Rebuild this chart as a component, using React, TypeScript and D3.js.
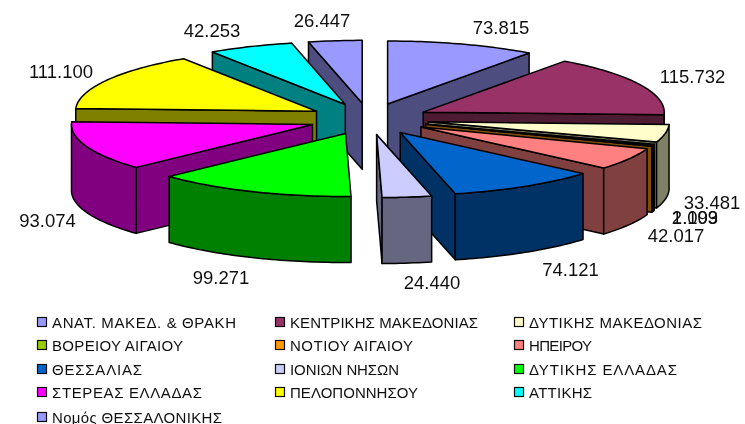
import React from "react";
import * as d3 from "d3";

const names = ["ΑΝΑΤ. ΜΑΚΕΔ. & ΘΡΑΚΗ","ΚΕΝΤΡΙΚΗΣ ΜΑΚΕΔΟΝΙΑΣ","ΔΥΤΙΚΗΣ ΜΑΚΕΔΟΝΙΑΣ","ΒΟΡΕΙΟΥ ΑΙΓΑΙΟΥ","ΝΟΤΙΟΥ ΑΙΓΑΙΟΥ","ΗΠΕΙΡΟΥ","ΘΕΣΣΑΛΙΑΣ","ΙΟΝΙΩΝ ΝΗΣΩΝ","ΔΥΤΙΚΗΣ ΕΛΛΑΔΑΣ","ΣΤΕΡΕΑΣ ΕΛΛΑΔΑΣ","ΠΕΛΟΠΟΝΝΗΣΟΥ","ΑΤΤΙΚΗΣ","Νομός ΘΕΣΣΑΛΟΝΙΚΗΣ"];
const values = [73815,115732,33481,2109,1093,42017,74121,24440,99271,93074,111100,42253,26447];
const valueLabels = ["73.815","115.732","33.481","2.109","1.093","42.017","74.121","24.440","99.271","93.074","111.100","42.253","26.447"];
const colors = ["#9999FF","#993366","#FFFFCC","#99CC00","#FF9900","#FF8080","#0066CC","#CCCCFF","#00FF00","#FF00FF","#FFFF00","#00FFFF","#9999FF"];
const sideColors = ["#4D4D80","#4D1A33","#808066","#4D6600","#804D00","#804040","#003366","#666680","#008000","#800080","#808000","#008080","#4D4D80"];

// layout
const CX = 369, CY = 119, RX = 241, RY = 63, DEPTH = 66, EXPLODE = 0.25;
const labelCenters: [number, number][] = [[501,27],[692.5,76],[712,202],[695,217],[695,217],[676,235],[570.5,269],[432,282],[221,277],[47.5,220],[61,71],[212,30],[322,20]];
const legendX = [37, 275, 514];
const legendY = [322, 345, 369, 392, 417];
const legendWidths = [184,188,173,131,123,63,90,109,148,150,128,63,170];
const FONT = "'Liberation Sans', Arial, sans-serif";

type Slice = { i: number; a0: number; a1: number; mid: number; ax: number; ay: number };

const angle = d3.scaleLinear().domain([0, d3.sum(values)]).range([0, 2 * Math.PI]);
const px = (s: Slice, t: number) => s.ax + RX * Math.sin(t);
const py = (s: Slice, t: number) => s.ay - RY * Math.cos(t);

const slices: Slice[] = (() => {
  let c = 0;
  return values.map((v, i) => {
    const a0 = angle(c); c += v; const a1 = angle(c); const mid = (a0 + a1) / 2;
    return { i, a0, a1, mid,
      ax: CX + EXPLODE * RX * Math.sin(mid),
      ay: CY - EXPLODE * RY * Math.cos(mid) };
  });
})();

const order = d3.sort(slices, (s) => -Math.cos(s.mid));
const line = d3.line<[number, number]>();

function arcPts(s: Slice, a: number, b: number, dy = 0): [number, number][] {
  const n = Math.max(2, Math.ceil(Math.abs(b - a) / 0.02));
  return d3.range(n + 1).map((k) => {
    const t = a + ((b - a) * k) / n;
    return [px(s, t), py(s, t) + dy] as [number, number];
  });
}

function SliceMark({ s }: { s: Slice }) {
  const stroke = { stroke: "#000", strokeWidth: 1.5, strokeLinejoin: "round" as const };
  const side = sideColors[s.i];
  const parts: React.ReactNode[] = [];
  const wall = (t: number, key: string) => {
    const pts: [number, number][] = [[s.ax, s.ay],[px(s, t), py(s, t)],[px(s, t), py(s, t) + DEPTH],[s.ax, s.ay + DEPTH]];
    parts.push(<path key={key} d={line(pts) + "Z"} fill={side} {...stroke} />);
  };
  if (Math.sin(s.a0) < 0) wall(s.a0, "start");
  if (Math.sin(s.a1) > 0) wall(s.a1, "end");
  const lo = Math.max(s.a0, Math.PI / 2), hi = Math.min(s.a1, 1.5 * Math.PI);
  if (hi > lo) {
    const pts = [...arcPts(s, lo, hi), ...arcPts(s, hi, lo, DEPTH)];
    parts.push(<path key="outer" d={line(pts) + "Z"} fill={side} {...stroke} />);
  }
  const top: [number, number][] = [[s.ax, s.ay], ...arcPts(s, s.a0, s.a1)];
  parts.push(<path key="top" d={line(top) + "Z"} fill={colors[s.i]} {...stroke} />);
  return <g>{parts}</g>;
}

export default function App() {
  return (
    <svg width={745} height={424} style={{ position: "absolute", left: 0, top: 0, background: "#fff" }} fontFamily={FONT}>
      <defs>
        <filter id="soft" x="0" y="0" width="100%" height="100%" filterUnits="userSpaceOnUse" primitiveUnits="userSpaceOnUse">
          <feGaussianBlur stdDeviation={0.35} />
        </filter>
      </defs>
      <g filter="url(#soft)">
        <rect width={745} height={424} fill="#fff" />
        {order.map((s) => <SliceMark key={s.i} s={s} />)}
        {valueLabels.map((t, i) => (
          <text key={t} x={labelCenters[i][0]} y={labelCenters[i][1]} fontSize={18.5} fill="#111" textAnchor="middle" dominantBaseline="central">{t}</text>
        ))}
        {names.map((n, i) => {
          const col = i < 12 ? i % 3 : 0, row = Math.floor(i / 3);
          const x = legendX[col], y = legendY[row];
          return (
            <g key={i}>
              <rect x={x + 0.5} y={y - 4.5} width={9} height={9} fill={colors[i]} stroke="#111" strokeWidth={1.2} />
              <text x={x + 15} y={y} fontSize={15} fill="#111" dominantBaseline="central" textLength={legendWidths[i]} lengthAdjust="spacing">{n}</text>
            </g>
          );
        })}
      </g>
    </svg>
  );
}
